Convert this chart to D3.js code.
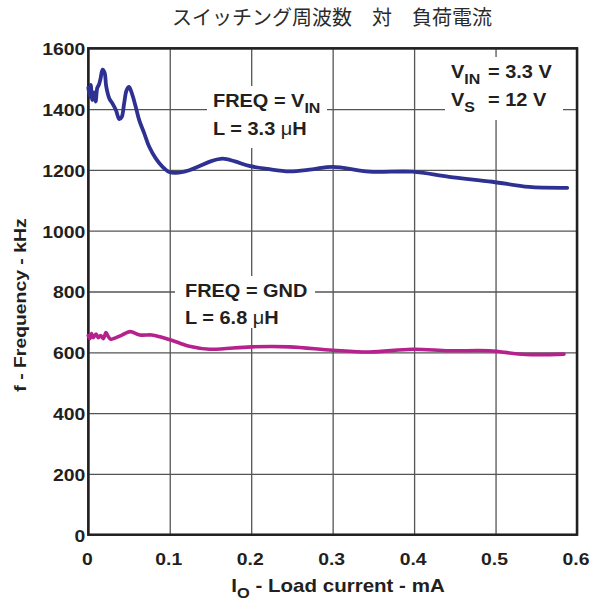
<!DOCTYPE html>
<html>
<head>
<meta charset="utf-8">
<script src="https://cdn.jsdelivr.net/npm/d3@7"></script>
<style>
  html, body { margin: 0; padding: 0; background: #fff; }
  svg { display: block; }
</style>
</head>
<body>
<svg id="chart" width="597" height="602"></svg>
<script>
// ---- data ----
const xTicks = [0, 0.1, 0.2, 0.3, 0.4, 0.5, 0.6];
const yTicks = [0, 200, 400, 600, 800, 1000, 1200, 1400, 1600];

// FREQ = VIN, L = 3.3 uH
const vinCurrent = [0, 0.002, 0.003, 0.005, 0.007, 0.009, 0.011, 0.013, 0.015, 0.0175, 0.020, 0.022,
  0.0258, 0.0298, 0.034, 0.038, 0.041, 0.044, 0.047, 0.050, 0.0536, 0.0577, 0.0626, 0.0687,
  0.0748, 0.083, 0.0912, 0.0994, 0.1076, 0.124, 0.136, 0.150, 0.165, 0.180, 0.1975, 0.220,
  0.247, 0.275, 0.300, 0.345, 0.398, 0.443, 0.496, 0.541, 0.588];
const vinFreq = [1470, 1440, 1480, 1430, 1455, 1425, 1470, 1480, 1500, 1530, 1520, 1475,
  1435, 1418, 1396, 1367, 1374, 1419, 1462, 1473, 1451, 1413, 1363, 1320,
  1276, 1237, 1210, 1193, 1190, 1199, 1212, 1228, 1237, 1228, 1213, 1203,
  1195, 1202, 1210, 1194, 1194, 1177, 1161, 1144, 1141];

// FREQ = GND, L = 6.8 uH
const gndCurrent = [0, 0.002, 0.004, 0.006, 0.0095, 0.0123, 0.0152, 0.0184, 0.0217, 0.0245, 0.0275,
  0.040, 0.0512, 0.0634, 0.0778, 0.088, 0.1002, 0.1125, 0.124, 0.149, 0.200, 0.247, 0.300,
  0.345, 0.398, 0.443, 0.492, 0.537, 0.584];
const gndFreq = [655, 645, 662, 648, 660, 648, 655, 645, 665, 652, 643,
  655, 668, 657, 657, 651, 641, 630, 620, 610, 618, 618, 607,
  601, 610, 605, 605, 593, 594];

// ---- layout ----
const svg = d3.select("#chart");
const plotLeft = 88.3, plotRight = 577, plotTop = 48.3, plotBottom = 534.7;
const SX = 1.14;               // horizontal stretch for the Helvetica-like labels
const FONT = "'Liberation Sans', Arial, Helvetica, sans-serif";
const BLUE = "#2e3192", MAGENTA = "#b5218d";

const x = d3.scaleLinear().domain([0, 0.6]).range([plotLeft, plotRight]);
const y = d3.scaleLinear().domain([0, 1600]).range([plotBottom, plotTop]);

// title
svg.append("text")
  .attr("x", 332).attr("y", 25)
  .attr("text-anchor", "middle")
  .attr("font-family", "'Noto Sans CJK JP', sans-serif")
  .attr("font-size", 20)
  .attr("fill", "#2a2a2a")
  .text("スイッチング周波数　対　負荷電流");

// grid + tick labels via axes
const gx = svg.append("g")
  .attr("transform", `translate(0,${plotBottom})`)
  .call(d3.axisBottom(x).tickValues(xTicks).tickSize(-(plotBottom - plotTop)).tickPadding(0)
    .tickFormat(d => d === 0 ? "0" : d3.format(".1f")(d)));
const gy = svg.append("g")
  .attr("transform", `translate(${plotLeft},0)`)
  .call(d3.axisLeft(y).tickValues(yTicks).tickSize(-(plotRight - plotLeft)).tickPadding(0)
    .tickFormat(d3.format("d")));

[gx, gy].forEach(g => {
  g.select(".domain").remove();
  g.selectAll(".tick line").attr("stroke", "#555").attr("stroke-width", 1.3);
  g.selectAll(".tick text")
    .attr("font-family", FONT).attr("font-weight", "bold")
    .attr("font-size", 17).attr("fill", "#231f20");
});
gx.selectAll(".tick text")
  .attr("y", 30).attr("dy", 0)
  .attr("x", -1.5 / SX)
  .attr("transform", `scale(${SX},1)`);
gy.selectAll(".tick text")
  .attr("x", -3 / SX).attr("dy", "0.38em")
  .attr("transform", `scale(${SX},1)`);

// white boxes behind annotations (they cut the grid)
const boxes = [
  [207, 86, 120, 62],
  [175, 276, 140, 52],
  [445, 57, 118, 63]
];
svg.append("g").selectAll("rect").data(boxes).join("rect")
  .attr("x", d => d[0]).attr("y", d => d[1])
  .attr("width", d => d[2]).attr("height", d => d[3])
  .attr("fill", "#fff");

// frame
svg.append("rect")
  .attr("x", plotLeft).attr("y", plotTop)
  .attr("width", plotRight - plotLeft).attr("height", plotBottom - plotTop)
  .attr("fill", "none").attr("stroke", "#231f20").attr("stroke-width", 2.5);

// curves
const line = d3.line().x(d => x(d[0])).y(d => y(d[1])).curve(d3.curveCatmullRom.alpha(0.5));
svg.append("path")
  .datum(d3.zip(gndCurrent, gndFreq))
  .attr("d", line)
  .attr("fill", "none").attr("stroke", MAGENTA).attr("stroke-width", 3.6)
  .attr("stroke-linejoin", "round").attr("stroke-linecap", "round");
svg.append("path")
  .datum(d3.zip(vinCurrent, vinFreq))
  .attr("d", line)
  .attr("fill", "none").attr("stroke", BLUE).attr("stroke-width", 3.8)
  .attr("stroke-linejoin", "round").attr("stroke-linecap", "round");

// stretched bold label helper: parts = [[text, "sub"|"after"|"mu"|null], ...]
function label(px, py, parts, opts = {}) {
  const fs = opts.size || 17;
  const g = svg.append("g")
    .attr("transform", `translate(${px},${py})${opts.rotate ? ` rotate(${opts.rotate})` : ""} scale(${SX},1)`);
  const t = g.append("text")
    .attr("font-family", FONT).attr("font-weight", "bold")
    .attr("font-size", fs).attr("fill", "#231f20")
    .attr("text-anchor", opts.anchor || "start");
  parts.forEach(([s, kind]) => {
    const ts = t.append("tspan").text(s);
    if (kind === "sub") ts.attr("font-size", fs * 0.8).attr("dy", 6);
    if (kind === "after") ts.attr("dy", -6);
    if (kind === "mu") ts.attr("font-weight", "normal");
  });
  return t;
}

label(213, 107, [["FREQ = V"], ["IN", "sub"]], { size: 17.5 });
label(213, 135, [["L = 3.3 "], ["μ", "mu"], ["H"]], { size: 17.5 });
label(185, 297, [["FREQ = GND"]], { size: 17.5 });
label(185, 324, [["L = 6.8 "], ["μ", "mu"], ["H"]], { size: 17.5 });

label(451, 78, [["V"], ["IN", "sub"]], { size: 17.5 });
label(488, 78, [["= 3.3 V"]], { size: 17.5 });
label(451, 106, [["V"], ["S", "sub"]], { size: 17.5 });
label(488, 106, [["= 12 V"]], { size: 17.5 });

// axis titles
label(338, 592, [["I"], ["O", "sub"], [" - Load current - mA", "after"]], { size: 18, anchor: "middle" });
label(26, 305, [["f - Frequency - kHz"]], { size: 17, anchor: "middle", rotate: -90 });
</script>
</body>
</html>
